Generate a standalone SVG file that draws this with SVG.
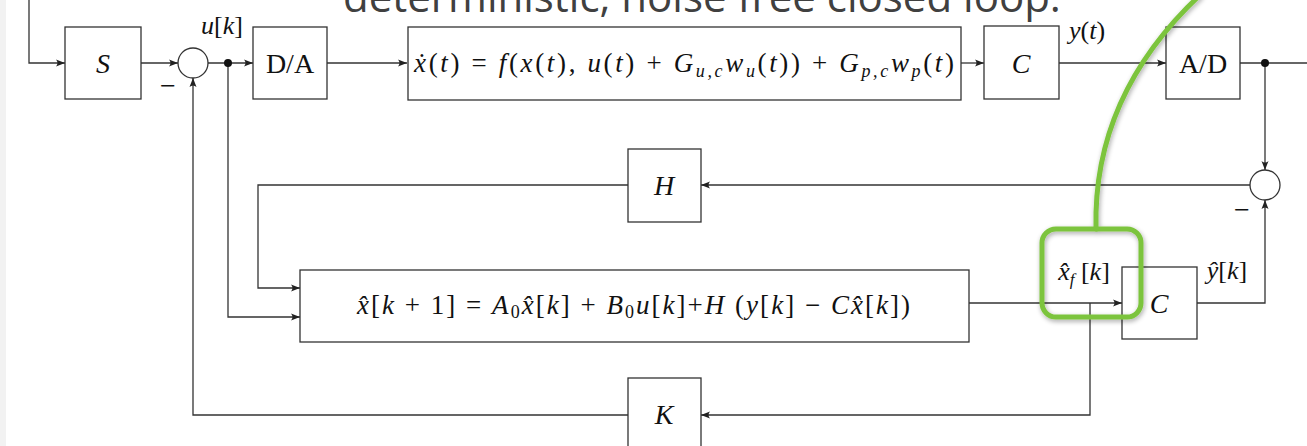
<svg xmlns="http://www.w3.org/2000/svg" width="1307" height="446" viewBox="0 0 1307 446">
<defs>
<marker id="ar" markerUnits="userSpaceOnUse" markerWidth="10" markerHeight="8" refX="9" refY="4" orient="auto">
<path d="M0,0.5 Q3,4 0,7.5 L9,4 Z" fill="#222"/>
</marker>
<filter id="sh" x="-20%" y="-20%" width="140%" height="140%">
<feGaussianBlur in="SourceAlpha" stdDeviation="2.5"/>
<feOffset dx="1" dy="2" result="b"/>
<feComponentTransfer><feFuncA type="linear" slope="0.35"/></feComponentTransfer>
<feMerge><feMergeNode/><feMergeNode in="SourceGraphic"/></feMerge>
</filter>
</defs>
<style>
.box{fill:#fff;stroke:#333;stroke-width:1.3}
.ln{fill:none;stroke:#333;stroke-width:1.3}
.ar{marker-end:url(#ar)}
.t{font-family:"Liberation Serif","DejaVu Serif",serif;font-size:28px;fill:#111}
.eq{font-size:27px}
.lb{font-size:26px}
.m{text-anchor:middle}
.i{font-style:italic}
.title{font-family:"Open Sans","Noto Sans",sans-serif;font-size:42px;fill:#404040}
.green{fill:none;stroke:#7cc43c;stroke-width:5;stroke-linecap:round}
</style>
<rect x="0" y="0" width="1307" height="446" fill="#fff"/>
<rect x="0" y="0" width="6" height="446" fill="#f2f2f2"/>
<text class="title" x="343" y="12">deterministic, noise free closed loop.</text>

<g id="connectors">
<path class="ln ar" d="M29,0 V63 H65"/>
<path class="ln ar" d="M141,63 H178"/>
<path class="ln ar" d="M208,63 H253"/>
<path class="ln ar" d="M327,63 H407"/>
<path class="ln ar" d="M961,63 H984"/>
<path class="ln ar" d="M1059,63 H1166"/>
<path class="ln" d="M1240,63 H1307"/>
<path class="ln ar" d="M1265,63 V170"/>
<path class="ln ar" d="M1250,185 H701"/>
<path class="ln ar" d="M628,185 H258 V288 H300"/>
<path class="ln ar" d="M228,63 V317 H300"/>
<path class="ln ar" d="M969,303 H1122"/>
<path class="ln ar" d="M1197,303 H1265 V200"/>
<path class="ln ar" d="M1090,303 V415 H701"/>
<path class="ln ar" d="M628,415 H193 V78"/>
<circle cx="228" cy="63" r="4" fill="#111"/>
<circle cx="1265" cy="63" r="4" fill="#111"/>
</g>

<g id="S"><rect class="box" x="65" y="27" width="76" height="72"/><text class="t m i" x="103" y="73">S</text></g>
<g id="sum1"><circle class="box" cx="193" cy="63" r="15"/><text class="t m" x="168" y="95">−</text></g>
<g id="uk-label"><text class="t m lb" x="222" y="34"><tspan class="i">u</tspan>[<tspan class="i">k</tspan>]</text></g>
<g id="DA"><rect class="box" x="253" y="27" width="74" height="72"/><text class="t m" x="290" y="73">D/A</text></g>
<g id="plant"><rect class="box" x="408" y="27" width="553" height="73"/>
<text class="t eq" x="414" y="72" textLength="540" lengthAdjust="spacing"><tspan class="i">x&#x307;</tspan>(<tspan class="i">t</tspan>) = <tspan class="i">f</tspan>(<tspan class="i">x</tspan>(<tspan class="i">t</tspan>), <tspan class="i">u</tspan>(<tspan class="i">t</tspan>) + <tspan class="i">G</tspan><tspan class="i" font-size="18" dy="5">u,c</tspan><tspan class="i" dy="-5">w</tspan><tspan class="i" font-size="18" dy="5">u</tspan><tspan dy="-5">(</tspan><tspan class="i">t</tspan>)) + <tspan class="i">G</tspan><tspan class="i" font-size="18" dy="5">p,c</tspan><tspan class="i" dy="-5">w</tspan><tspan class="i" font-size="18" dy="5">p</tspan><tspan dy="-5">(</tspan><tspan class="i">t</tspan>)</text></g>
<g id="C1"><rect class="box" x="984" y="26" width="75" height="73"/><text class="t m i" x="1021" y="73">C</text></g>
<g id="yt-label"><text class="t m lb" x="1087" y="39"><tspan class="i">y</tspan>(<tspan class="i">t</tspan>)</text></g>
<g id="AD"><rect class="box" x="1166" y="27" width="74" height="72"/><text class="t m" x="1203" y="73">A/D</text></g>
<g id="sum2"><circle class="box" cx="1265" cy="185" r="15"/><text class="t m" x="1242" y="219">−</text></g>
<g id="H"><rect class="box" x="628" y="149" width="73" height="73"/><text class="t m i" x="664" y="195">H</text></g>
<g id="estimator"><rect class="box" x="300" y="270" width="669" height="72"/>
<text class="t eq" x="357" y="314" textLength="553" lengthAdjust="spacing"><tspan class="i">x&#x302;</tspan>[<tspan class="i">k</tspan> + 1] = <tspan class="i">A</tspan><tspan font-size="18" dy="4">0</tspan><tspan class="i" dy="-4">x&#x302;</tspan>[<tspan class="i">k</tspan>] + <tspan class="i">B</tspan><tspan font-size="18" dy="4">0</tspan><tspan class="i" dy="-4">u</tspan>[<tspan class="i">k</tspan>]+<tspan class="i">H</tspan> (<tspan class="i">y</tspan>[<tspan class="i">k</tspan>] − <tspan class="i">C</tspan><tspan class="i">x&#x302;</tspan>[<tspan class="i">k</tspan>])</text></g>
<g id="C2"><rect class="box" x="1122" y="267" width="75" height="72"/><text class="t m i" x="1159" y="313">C</text></g>
<g id="yhat-label"><text class="t m lb" x="1227" y="279"><tspan class="i">ŷ</tspan>[<tspan class="i">k</tspan>]</text></g>
<g id="xf-label"><text class="t m lb" x="1084" y="280"><tspan class="i">x&#x302;</tspan><tspan class="i" font-size="17" dy="5">f</tspan><tspan dy="-5"> [</tspan><tspan class="i">k</tspan>]</text></g>
<g id="K"><rect class="box" x="628" y="378" width="73" height="75"/><text class="t m i" x="664" y="424">K</text></g>

<g id="highlight" filter="url(#sh)">
<rect class="green" x="1042" y="229" width="99" height="88" rx="14"/>
<path class="green" d="M1096,229 C1094,150 1120,70 1200,-5"/>
</g>
</svg>
